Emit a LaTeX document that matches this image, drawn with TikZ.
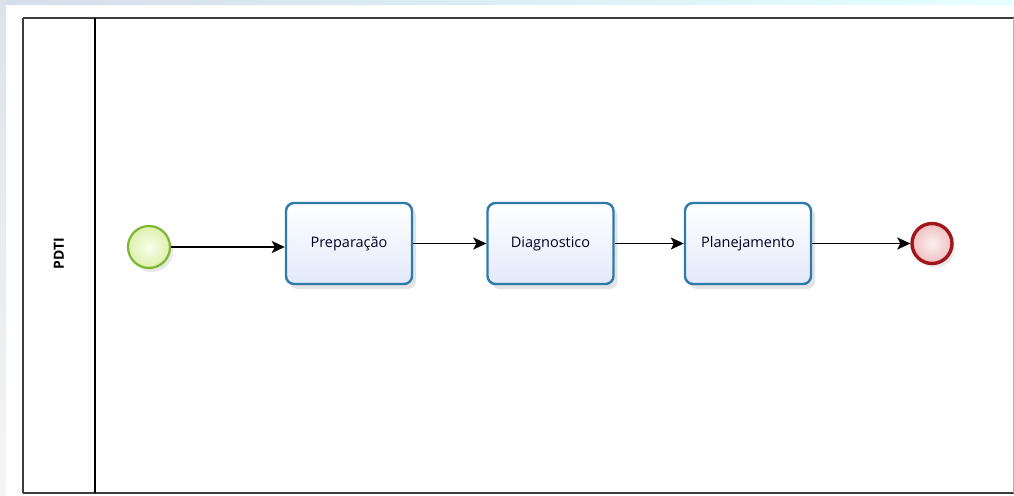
\documentclass[tikz,border=0pt]{standalone}
\usepackage{fontspec}
\setmainfont{Open Sans}
\usetikzlibrary{arrows.meta,shadows,shadings}
\definecolor{poolline}{HTML}{3C3C3C}
\definecolor{taskline}{HTML}{2C7BAA}
\definecolor{taskfillA}{HTML}{FFFFFF}
\definecolor{taskfillB}{HTML}{E4E9FA}
\definecolor{startline}{HTML}{7DB72F}
\definecolor{startfillA}{HTML}{FAFDEB}
\definecolor{startfillB}{HTML}{DDF0AE}
\definecolor{endline}{HTML}{A0161A}
\definecolor{endfillA}{HTML}{FCF0F0}
\definecolor{endfillB}{HTML}{EFBFC1}
\definecolor{bgblue}{HTML}{D4DEEA}
\definecolor{bgside}{HTML}{DCE4EA}
\tikzset{
  pool/.style={draw=poolline, line width=1.8pt},
  taskbox/.style={draw=taskline, line width=2.4pt, rounded corners=8pt,
    minimum width=126pt, minimum height=81pt, inner sep=0pt,
    top color=taskfillA, bottom color=taskfillB,
    drop shadow={shadow xshift=4pt, shadow yshift=-5pt, opacity=0.18, fill=black!60},
    font=\fontsize{14.5}{17}\selectfont, text=black!85!blue},
  startev/.style={circle, draw=startline, line width=2.2pt, minimum size=42pt, inner sep=0pt,
    inner color=startfillA, outer color=startfillB,
    drop shadow={shadow xshift=3pt, shadow yshift=-4pt, opacity=0.15, fill=black!60}},
  endev/.style={circle, draw=endline, line width=3.4pt, minimum size=40pt, inner sep=0pt,
    inner color=endfillA, outer color=endfillB,
    drop shadow={shadow xshift=3pt, shadow yshift=-4pt, opacity=0.15, fill=black!60}},
  flow/.style={draw=black, line width=1.7pt, -{Stealth[length=13pt,width=12pt,inset=3pt]}},
}
\begin{document}
\begin{tikzpicture}[x=1pt,y=-1pt]
\useasboundingbox (0,0) rectangle (1014,495);
% background
\fill[white] (0,0) rectangle (1014,495);
\shade[left color=bgblue, right color=white!90!cyan] (0,0) rectangle (1014,5);
\shade[top color=bgside, bottom color=white!92!gray] (0,0) rectangle (6,495);
% pool
\draw[pool] (23,18) -- (1014,18);
\draw[pool] (23,493) -- (1014,493);
\draw[pool] (23,18) -- (23,493);
\draw[draw=black, line width=1.8pt] (95,18) -- (95,493);
\draw[draw=black!30, line width=1pt] (1013,18) -- (1013,493);
\node[rotate=90, font=\bfseries\fontsize{14}{16}\selectfont] (lane) at (59,254) {PDTI};
% elements
\node[startev] (start) at (149,247) {};
\node[taskbox] (t1) at (349,243.5) {Preparação};
\node[taskbox] (t2) at (550.5,243.5) {Diagnostico};
\node[taskbox] (t3) at (748,243.5) {Planejamento};
\node[endev] (end) at (932,243.5) {};
% flows
\draw[flow] (start.east) -- (start.east -| t1.west);
\draw[flow] (t1) -- (t2);
\draw[flow] (t2) -- (t3);
\draw[flow] (t3) -- (end);
\end{tikzpicture}
\end{document}
